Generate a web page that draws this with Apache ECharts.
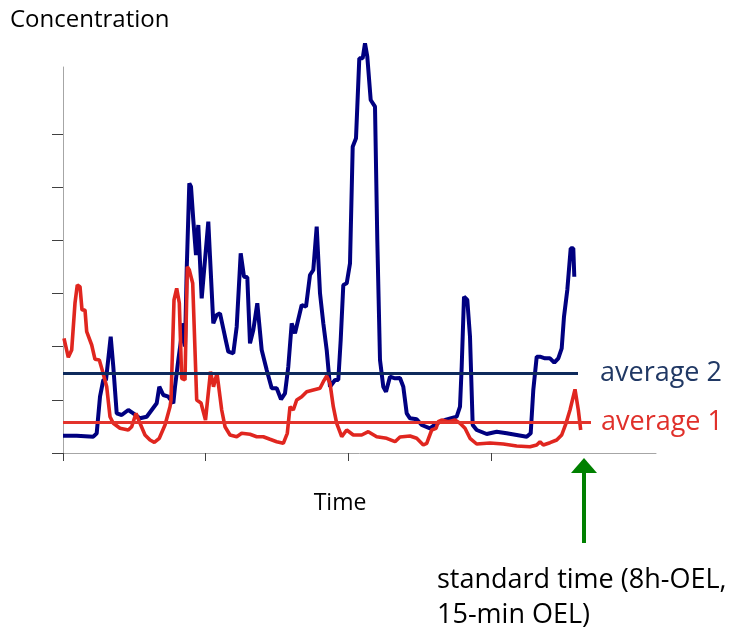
<!DOCTYPE html>
<html><head><meta charset="utf-8">
<script src="https://cdn.jsdelivr.net/npm/echarts@6/dist/echarts.min.js"></script>
<style>html,body{margin:0;padding:0;background:#fff}#c{width:739px;height:634px}</style>
</head><body><div id="c"></div>
<script>
// axis settings (arbitrary units, no labels shown in the original)
const xTickStep = 142.7;
const yTickStep = 53.2;
const xMax = 593;
const yMax = 386;
const xTickCount = 4;
const yTickCount = 7;

// series 2 (blue)
const blueTime = [0,13.7,30.3,33.7,37,40.3,43,47.7,50.3,53.7,58.7,65.3,70.3,77,83.7,88.7,93.7,96.3,100.3,105.3,110.3,112,115.3,120.3,122,123.7,126.3,128,130.3,133,135.3,137,138.7,145.3,147,150.3,153.7,157,162,165.3,170.3,173.7,177.7,181,184.3,187,190.3,194.3,198.7,203.7,208.7,213.7,218,222,225.3,228.7,232,238.7,243,247,250.3,253.7,257,260.3,263.7,267,272,275.3,277.7,280.3,283.7,287,289.7,293,296.3,299.7,302,304.3,307.7,312,314.3,317,320.3,323,327,332,337,340.3,343.7,347,353.7,358.7,367,373.7,382,393.7,397,398.7,401,404.3,407,409.7,413.7,423.7,433.7,443.7,453.7,463.7,467.7,470.3,473.7,477,482,487,491.3,495.3,498.7,501,504.3,507.7,510.3,511.3];
const blueConc = [17.3,17.3,16.3,19.7,56.3,73,73,116.3,86.3,39.7,38,43,39.7,34.7,36.3,43,49.7,66.3,58,56.3,49.7,66.3,93,129.7,106.3,183,269.7,266.3,233,198,228,228,154.7,231.3,196.3,129.7,138,139.7,116.3,101.3,99.7,126.3,199.7,176.3,175.7,109.7,123,149.7,103,83,64.7,64.7,53.7,59.7,86.3,129.7,119.7,148,146.3,178,183,226.3,159.7,129.7,103,66.3,73,73,113,168,169.7,189.7,306.3,314.7,394.7,394.7,409.7,396.3,353,346.3,213,93,66.3,61.3,76.3,74.7,75,66.3,39.7,34.7,33.7,28,24.7,29.7,33,36.3,46.3,86.3,156.3,153,116.3,28,23,19,21.3,19.7,18,16.3,19.7,63,96.3,96.3,94.7,94.7,90.3,94.7,104.7,136.3,163,204.7,204.7,176.3];

// series 1 (red)
const redTime = [1,5.3,8.7,12,14.3,17,19,22,23.7,28.7,32,36.3,39.7,43.7,47,50.3,57,65.3,68.7,73,77,82,87,91.3,96.3,102,107,108,111,113.7,116.3,118.7,122,124.3,126.3,129.7,133.7,138,142.5,147.5,150.5,154,158.7,162,167,173.7,178.7,187,193.7,200.3,207,213.7,220.3,224.3,227,230.3,233.7,238.7,243.7,250.3,257,260.3,263.7,267,270.3,273.7,278.7,283.7,290.3,298.7,305.3,313.7,323.7,332,337,347,353.7,360.3,363.7,368.7,373,375.3,378.7,385.3,392,397,402,407,413.7,427,440.3,453.7,467,473.7,477,480.3,487,493.7,498.7,503,507,512,515.3,517.7];
const redConc = [114.7,95.7,103,150,168,166.3,143,143,121.3,108,93.7,93,81.3,66.3,36.3,29.7,24.7,23,26.3,39.7,29.7,18,13,10.7,14.7,28,46.3,53,153,164.7,150,74.7,73,186.3,183,169.7,53,50,33,81.3,66.3,79.7,43,26.3,18,16.3,19.7,18.7,16.3,16.3,13.7,11.3,9.7,19.7,46.3,43,53,56.3,61.3,63,64.7,71.3,77,69.7,46.3,29.7,16.3,23,18,18,21.3,16.3,14.7,11.3,16,17,14.7,8,9.7,23,24.7,31.3,33,31.3,33,29.7,24.7,14.7,9,10,9,7,6.3,8,11.3,8,10.3,13,18,29.7,43,63.7,43,23];

// averages
const average2 = 79.5;
const average1 = 30.5;
const avg2End = 515;
const avg1End = 528;
const standardTime = 521;

const pair = (ts, vs) => ts.map((t, i) => [t, vs[i]]);
const xTicks = Array.from({length: xTickCount}, (_, i) => +(i * xTickStep).toFixed(2));
const yTicks = Array.from({length: yTickCount}, (_, i) => +(i * yTickStep).toFixed(2));

const FONT = 'Open Sans';
const chart = echarts.init(document.getElementById('c'), null, {renderer: 'canvas'});
const option = {
  animation: false,
  backgroundColor: '#fff',
  grid: {left: 63, top: 67, width: 593, height: 386},
  xAxis: {
    type: 'value', min: 0, max: xMax,
    axisLine: {show: true, lineStyle: {color: '#a6a6a6', width: 1}},
    axisTick: {show: true, length: 8, customValues: xTicks, lineStyle: {color: '#404040', width: 1}},
    axisLabel: {show: false},
    splitLine: {show: false}
  },
  yAxis: {
    type: 'value', min: 0, max: yMax,
    axisLine: {show: true, lineStyle: {color: '#a6a6a6', width: 1}},
    axisTick: {show: true, length: 11, customValues: yTicks, lineStyle: {color: '#404040', width: 1}},
    axisLabel: {show: false},
    splitLine: {show: false}
  },
  series: [
    {type: 'line', data: pair(blueTime, blueConc), showSymbol: false, z: 2, clip: false,
     lineStyle: {color: '#000080', width: 4}},
    {type: 'line', data: pair(redTime, redConc), showSymbol: false, z: 3, clip: false,
     lineStyle: {color: '#e0261f', width: 3.6}},
    {type: 'line', data: [[0, average2], [avg2End, average2]], showSymbol: false, z: 4,
     lineStyle: {color: '#0e2a5c', width: 3},
     endLabel: {show: true, formatter: 'average 2', distance: 22, fontFamily: FONT, fontSize: 27, color: '#203864'}},
    {type: 'line', data: [[0, average1], [avg1End, average1]], showSymbol: false, z: 5,
     lineStyle: {color: '#e3332b', width: 3},
     endLabel: {show: true, formatter: 'average 1', distance: 10, fontFamily: FONT, fontSize: 27, color: '#e0302a'}}
  ]
};
chart.setOption(option);

const ax = chart.convertToPixel({gridIndex: 0}, [standardTime, 0])[0];
chart.setOption({
  graphic: [
    {type: 'text', x: 10, y: 20, style: {text: 'Concentration', font: '24px "Open Sans"', fill: '#000', verticalAlign: 'middle'}},
    {type: 'text', x: 340, y: 503, style: {text: 'Time', font: '23px "Open Sans"', fill: '#000', align: 'center', verticalAlign: 'middle'}},
    {type: 'text', x: 437, y: 580, style: {text: 'standard time (8h-OEL,', font: '27px "Open Sans"', fill: '#000', verticalAlign: 'middle'}},
    {type: 'text', x: 437, y: 615, style: {text: '15-min OEL)', font: '27px "Open Sans"', fill: '#000', verticalAlign: 'middle'}},
    {type: 'rect', shape: {x: ax - 2, y: 471, width: 4, height: 72}, style: {fill: '#008000'}},
    {type: 'polygon', shape: {points: [[ax, 458], [ax - 13, 473], [ax + 13, 473]]}, style: {fill: '#008000'}}
  ]
});
</script>
</body></html>
